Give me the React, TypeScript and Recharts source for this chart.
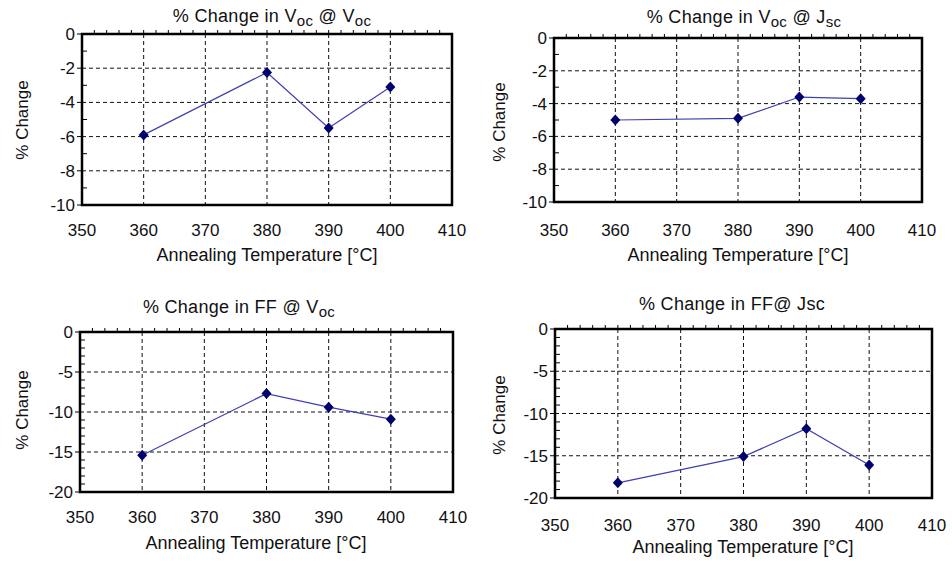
import type { ReactNode } from "react";
import {
  CartesianGrid,
  Line,
  LineChart,
  ReferenceArea,
  XAxis,
  YAxis,
} from "recharts";

// annealing temperatures (°C) and the % change measured at each one
const temps = [360, 380, 390, 400];
const vocAtVoc = [-5.9, -2.25, -5.5, -3.1];
const vocAtJsc = [-5.0, -4.9, -3.6, -3.7];
const ffAtVoc = [-15.4, -7.7, -9.4, -10.9];
const ffAtJsc = [-18.2, -15.1, -11.8, -16.1];

const xTicks = [350, 360, 370, 380, 390, 400, 410];
const xMinorTicks = [
  352, 354, 356, 358, 360, 362, 364, 366, 368, 370, 372, 374, 376, 378, 380,
  382, 384, 386, 388, 390, 392, 394, 396, 398, 400, 402, 404, 406, 408,
];
const vocTicks = [0, -2, -4, -6, -8, -10];
const vocMinorTicks = [-1, -3, -5, -7, -9];
const ffTicks = [0, -5, -10, -15, -20];
const ffMinorTicks = [
  -1, -2, -3, -4, -6, -7, -8, -9, -11, -12, -13, -14, -16, -17, -18, -19,
];

const FONT = '"Liberation Sans", Arial, sans-serif';
const TEXT = "#111";
const CHART_W = 476;
const CHART_H = 280;

type Box = {
  x: number;
  y: number;
  left: number;
  top: number;
  right: number;
  bottom: number;
};

type Spot = { x: number; y: number };

type PanelProps = {
  values: number[];
  yTicks: number[];
  yMinor: number[];
  box: Box;
  tickGap: number;
  title: ReactNode;
  titleAt: Spot;
  yLabelAt: Spot;
  xLabelAt: Spot;
};

const Sub = ({ children }: { children: ReactNode }) => (
  <span style={{ fontSize: 15, position: "relative", top: 4 }}>{children}</span>
);

const Diamond = (props: { cx?: number; cy?: number; index?: number }) => {
  const { cx, cy, index } = props;
  if (cx == null || cy == null) return <g key={index} />;
  return (
    <polygon
      key={index}
      points={`${cx},${cy - 5.5} ${cx + 5},${cy} ${cx},${cy + 5.5} ${cx - 5},${cy}`}
      fill="#00006e"
    />
  );
};

// minor axes only show their tick marks, never a label
const NoLabel = () => <g />;

function Panel({
  values,
  yTicks,
  yMinor,
  box,
  tickGap,
  title,
  titleAt,
  yLabelAt,
  xLabelAt,
}: PanelProps) {
  const data = temps.map((t, i) => ({ t, v: values[i] }));
  const domain: [number, number] = [yTicks[yTicks.length - 1], yTicks[0]];
  const label = {
    position: "absolute" as const,
    whiteSpace: "nowrap" as const,
    fontFamily: FONT,
    color: TEXT,
    lineHeight: 1,
  };

  // the top minor axis is a 1px box, so take that out of the top margin
  return (
    <>
      <div style={{ position: "absolute", left: box.x, top: box.y }}>
        <LineChart
          width={CHART_W}
          height={CHART_H}
          data={data}
          margin={{
            top: box.top - box.y - 1,
            right: box.x + CHART_W - box.right,
            bottom: 0,
            left: 0,
          }}
        >
          <CartesianGrid stroke="#111" strokeDasharray="4 3" />
          <XAxis
            dataKey="t"
            type="number"
            domain={[350, 410]}
            ticks={xTicks}
            interval={0}
            height={box.y + CHART_H - box.bottom}
            tickSize={0}
            tickMargin={tickGap}
            axisLine={false}
            tick={{ fill: TEXT, fontSize: 17, fontFamily: FONT }}
          />
          <XAxis
            xAxisId="top"
            orientation="top"
            dataKey="t"
            type="number"
            domain={[350, 410]}
            ticks={xMinorTicks}
            interval={0}
            height={1}
            tick={NoLabel}
            tickSize={4}
            tickLine={{ stroke: "#000", strokeWidth: 1 }}
            axisLine={false}
          />
          <YAxis
            type="number"
            domain={domain}
            ticks={yTicks}
            interval={0}
            width={box.left - box.x}
            tickSize={5}
            tickMargin={2}
            tickLine={{ stroke: "#000" }}
            axisLine={false}
            tick={{ fill: TEXT, fontSize: 17, fontFamily: FONT }}
          />
          <YAxis
            yAxisId="minor"
            mirror
            type="number"
            domain={domain}
            ticks={yMinor}
            interval={0}
            width={1}
            tick={NoLabel}
            tickSize={5}
            tickLine={{ stroke: "#000", strokeWidth: 1 }}
            axisLine={false}
          />
          {/* plot frame */}
          <ReferenceArea
            x1={350}
            x2={410}
            y1={domain[0]}
            y2={domain[1]}
            fill="none"
            stroke="#000"
            strokeWidth={2.5}
            ifOverflow="visible"
          />
          {/* carries no ink, only ties the minor axes to the data */}
          <Line
            xAxisId="top"
            yAxisId="minor"
            dataKey="v"
            stroke="none"
            dot={false}
            activeDot={false}
            legendType="none"
            isAnimationActive={false}
          />
          <Line
            dataKey="v"
            stroke="#4040b0"
            strokeWidth={1.2}
            dot={(p: { cx?: number; cy?: number; index?: number }) => (
              <Diamond key={p.index} {...p} />
            )}
            activeDot={false}
            isAnimationActive={false}
          />
        </LineChart>
      </div>
      <div
        style={{
          ...label,
          left: titleAt.x,
          top: titleAt.y,
          fontSize: 18,
          letterSpacing: 0.3,
          transform: "translate(-50%, -50%)",
        }}
      >
        {title}
      </div>
      <div
        style={{
          ...label,
          left: yLabelAt.x,
          top: yLabelAt.y,
          fontSize: 17,
          transform: "translate(-50%, -50%) rotate(-90deg)",
        }}
      >
        % Change
      </div>
      <div
        style={{
          ...label,
          left: xLabelAt.x,
          top: xLabelAt.y,
          fontSize: 18,
          transform: "translate(-50%, -50%)",
        }}
      >
        Annealing Temperature [°C]
      </div>
    </>
  );
}

export default function App() {
  return (
    <div
      style={{
        position: "absolute",
        left: 0,
        top: 0,
        width: 952,
        height: 561,
        background: "#fff",
        overflow: "hidden",
      }}
    >
      <Panel
        values={vocAtVoc}
        yTicks={vocTicks}
        yMinor={vocMinorTicks}
        box={{ x: 0, y: 0, left: 82, top: 34, right: 452, bottom: 205 }}
        tickGap={19}
        title={
          <>
            % Change in V<Sub>oc</Sub> @ V<Sub>oc</Sub>
          </>
        }
        titleAt={{ x: 272, y: 16 }}
        yLabelAt={{ x: 22, y: 120 }}
        xLabelAt={{ x: 267, y: 255 }}
      />
      <Panel
        values={vocAtJsc}
        yTicks={vocTicks}
        yMinor={vocMinorTicks}
        box={{ x: 476, y: 0, left: 554, top: 38, right: 922, bottom: 202 }}
        tickGap={22}
        title={
          <>
            % Change in V<Sub>oc</Sub> @ J<Sub>sc</Sub>
          </>
        }
        titleAt={{ x: 744, y: 17 }}
        yLabelAt={{ x: 499, y: 122 }}
        xLabelAt={{ x: 738, y: 255 }}
      />
      <Panel
        values={ffAtVoc}
        yTicks={ffTicks}
        yMinor={ffMinorTicks}
        box={{ x: 0, y: 280, left: 80, top: 332, right: 453, bottom: 492 }}
        tickGap={19}
        title={
          <>
            % Change in FF @ V<Sub>oc</Sub>
          </>
        }
        titleAt={{ x: 239, y: 307 }}
        yLabelAt={{ x: 22, y: 410 }}
        xLabelAt={{ x: 256, y: 543 }}
      />
      <Panel
        values={ffAtJsc}
        yTicks={ffTicks}
        yMinor={ffMinorTicks}
        box={{ x: 476, y: 280, left: 555, top: 329, right: 932, bottom: 498 }}
        tickGap={21}
        title={<>% Change in FF@ Jsc</>}
        titleAt={{ x: 732, y: 304 }}
        yLabelAt={{ x: 499, y: 415 }}
        xLabelAt={{ x: 743, y: 547 }}
      />
    </div>
  );
}
